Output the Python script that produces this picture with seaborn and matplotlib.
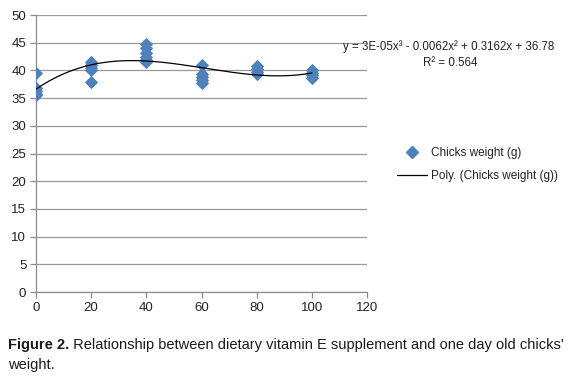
import numpy as np
import pandas as pd
import matplotlib
matplotlib.use("Agg")
import matplotlib.pyplot as plt
import seaborn as sns
from matplotlib.lines import Line2D

# ---- data ----
vit_e = [0, 0, 0, 0, 0,
         20, 20, 20, 20, 20,
         40, 40, 40, 40, 40, 40,
         60, 60, 60, 60, 60,
         80, 80, 80, 80,
         100, 100, 100, 100]
weight = [39.5, 36.8, 36.3, 35.8, 35.5,
          41.6, 41.0, 40.5, 40.0, 38.0,
          44.7, 44.0, 43.2, 42.5, 41.8, 41.6,
          41.0, 39.3, 38.8, 38.3, 37.8,
          40.8, 40.3, 39.8, 39.3,
          40.1, 39.6, 39.1, 38.7]
x_ticks = [0, 20, 40, 60, 80, 100, 120]
y_ticks = [0, 5, 10, 15, 20, 25, 30, 35, 40, 45, 50]
eq_text = "y = 3E-05x³ - 0.0062x² + 0.3162x + 36.78"
r2_text = "R² = 0.564"
series_label = "Chicks weight (g)"
trend_label = "Poly. (Chicks weight (g))"
caption_bold = "Figure 2."
caption_rest = " Relationship between dietary vitamin E supplement and one day old chicks'"
caption_line2 = "weight."

df = pd.DataFrame({"x": vit_e, "y": weight})
coef = np.polyfit(df["x"], df["y"], 3)
xs = np.linspace(0, 100, 200)
trend = pd.DataFrame({"x": xs, "y": np.polyval(coef, xs)})

sns.set_theme(style="white")
plt.rcParams["font.family"] = ["Liberation Sans", "DejaVu Sans"]

fig = plt.figure(figsize=(5.78, 3.76), dpi=100)
ax = fig.add_axes([0.0623, 0.2234, 0.5727, 0.7366])

blue = "#4F81BD"
sns.scatterplot(data=df, x="x", y="y", ax=ax, marker="D", s=46,
                color=blue, edgecolor=blue, linewidth=0, zorder=3, legend=False)
sns.lineplot(data=trend, x="x", y="y", ax=ax, color="black", linewidth=0.9,
             zorder=4, legend=False)

ax.set_xlim(0, 120)
ax.set_ylim(0, 50)
ax.set_xticks(x_ticks)
ax.set_yticks(y_ticks)
ax.set_xlabel("")
ax.set_ylabel("")
ax.yaxis.grid(True, color="#9a9a9a", linewidth=0.9)
ax.xaxis.grid(False)
ax.set_axisbelow(True)
for s in ["top", "right"]:
    ax.spines[s].set_visible(False)
for s in ["left", "bottom"]:
    ax.spines[s].set_color("#8c8c8c")
    ax.spines[s].set_linewidth(0.9)
ax.tick_params(axis="both", which="major", direction="out", length=4,
               width=0.9, color="#8c8c8c", labelsize=9.5, labelcolor="#222222",
               pad=3, bottom=True, left=True)

# trendline equation
fig.text(0.777, 0.876, eq_text, ha="center", va="center", fontsize=8.3, color="#222222")
fig.text(0.779, 0.832, r2_text, ha="center", va="center", fontsize=8.3, color="#222222")

# legend
handles = [Line2D([0], [0], marker="D", linestyle="none", color=blue, markersize=6),
           Line2D([0], [0], color="black", linewidth=0.9)]
fig.legend(handles, [series_label, trend_label], loc="upper left",
           bbox_to_anchor=(0.668, 0.636), frameon=False, fontsize=8.5,
           handlelength=2.6, handletextpad=0.3, labelspacing=0.9,
           labelcolor="#222222")

# caption
cap_family = ["Liberation Sans Narrow", "Liberation Sans", "DejaVu Sans"]
t1 = fig.text(0.014, 0.083, caption_bold, fontsize=10.5, fontweight="bold",
              ha="left", va="center", color="#1a1a1a", family=cap_family)
fig.canvas.draw()
bb = t1.get_window_extent()
x2 = bb.x1 / fig.bbox.width
fig.text(x2, 0.083, caption_rest, fontsize=10.5, ha="left", va="center",
         color="#1a1a1a", family=cap_family)
fig.text(0.014, 0.028, caption_line2, fontsize=10.5, ha="left", va="center",
         color="#1a1a1a", family=cap_family)

fig.savefig("out.png", dpi=100)
